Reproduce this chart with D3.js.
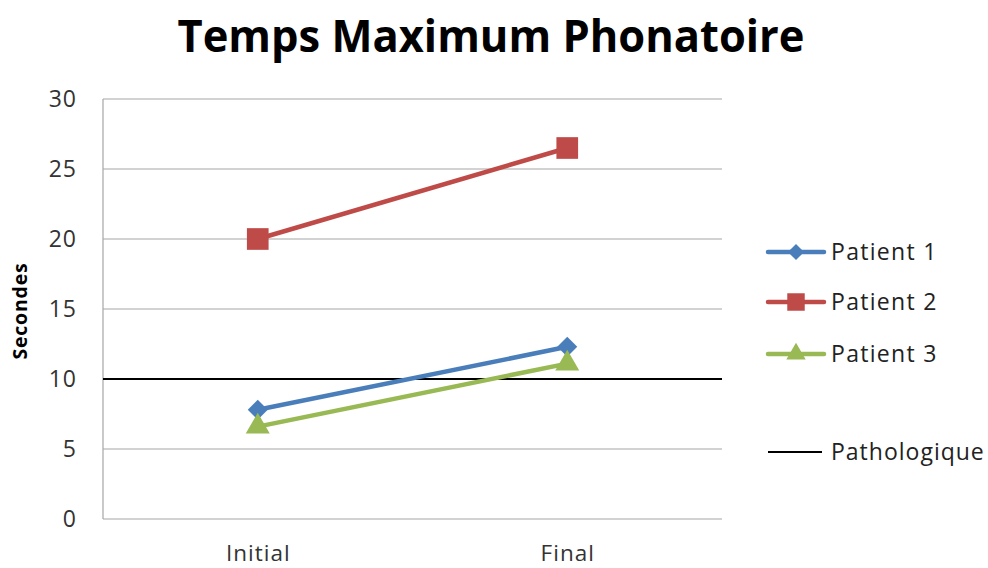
<!DOCTYPE html>
<html><head><meta charset="utf-8">
<script src="https://cdn.jsdelivr.net/npm/d3@7"></script>
<style>body{margin:0;background:#fff}</style>
</head><body>
<script>
const categories = ["Initial", "Final"];
const seriesNames = ["Patient 1", "Patient 2", "Patient 3"];
const patient1 = [7.8, 12.3];
const patient2 = [20, 26.5];
const patient3 = [6.6, 11.1];
const threshold = 10;
const thresholdName = "Pathologique";
const yTicks = [0, 5, 10, 15, 20, 25, 30];
const title = "Temps Maximum Phonatoire";
const yTitle = "Secondes";

const W = 988, H = 568;
const m = {left: 103, right: 266, top: 99, bottom: 49};
const svg = d3.select("body").append("svg").attr("width", W).attr("height", H);
const font = "'Open Sans', sans-serif";

const x = d3.scalePoint().domain(categories).range([m.left, W - m.right]).padding(0.5);
const y = d3.scaleLinear().domain([0, 30]).range([H - m.bottom, m.top]);

// gridlines
svg.append("g").selectAll("line").data(yTicks).join("line")
  .attr("x1", m.left).attr("x2", W - m.right)
  .attr("y1", d => y(d)).attr("y2", d => y(d))
  .attr("stroke", "#a6a6a6").attr("stroke-width", 1.2);
svg.append("line").attr("x1", m.left).attr("x2", m.left)
  .attr("y1", y(0)).attr("y2", y(30)).attr("stroke", "#a6a6a6").attr("stroke-width", 1.2);

// y axis labels
const yAxis = d3.axisLeft(y).tickValues(yTicks).tickSize(0).tickPadding(26);
const ga = svg.append("g").attr("transform", `translate(${m.left},0)`).call(yAxis);
ga.select(".domain").remove();
ga.selectAll("text").attr("font-family", font).attr("font-size", 23)
  .attr("letter-spacing", 1).attr("fill", "#333");

// x axis labels
const xAxis = d3.axisBottom(x).tickSize(0).tickPadding(26);
const gx = svg.append("g").attr("transform", `translate(0,${y(0)})`).call(xAxis);
gx.select(".domain").remove();
gx.selectAll("text").attr("font-family", font).attr("font-size", 22.5)
  .attr("letter-spacing", 1).attr("fill", "#333");

// threshold
svg.append("line").attr("x1", m.left).attr("x2", W - m.right)
  .attr("y1", y(threshold)).attr("y2", y(threshold))
  .attr("stroke", "#000").attr("stroke-width", 2.2);

const series = [
  {name: seriesNames[0], values: patient1, color: "#4a7ebb", shape: d3.symbolSquare, size: 200, rot: 45},
  {name: seriesNames[1], values: patient2, color: "#be4b48", shape: d3.symbolSquare, size: 470, rot: 0},
  {name: seriesNames[2], values: patient3, color: "#98b954", shape: d3.symbolTriangle, size: 250, rot: 0},
];
const line = d3.line().x((d, i) => x(categories[i])).y(d => y(d));
series.forEach(s => {
  svg.append("path").attr("d", line(s.values)).attr("fill", "none")
    .attr("stroke", s.color).attr("stroke-width", 4.5).attr("stroke-linecap", "round");
  svg.append("g").selectAll("path").data(s.values).join("path")
    .attr("transform", (d, i) => `translate(${x(categories[i])},${y(d)}) rotate(${s.rot})`)
    .attr("d", d3.symbol().type(s.shape).size(s.size)).attr("fill", s.color);
});

// title
svg.append("text").attr("x", 491).attr("y", 52).attr("text-anchor", "middle")
  .attr("font-family", font).attr("font-weight", "bold").attr("font-size", 45)
  .attr("textLength", 627).attr("lengthAdjust", "spacingAndGlyphs")
  .attr("fill", "#000").text(title);

// y title
svg.append("text").attr("transform", "translate(27,311) rotate(-90)").attr("text-anchor", "middle")
  .attr("font-family", font).attr("font-weight", "bold").attr("font-size", 19.5)
  .attr("letter-spacing", 0.8).attr("fill", "#000").text(yTitle);

// legend
const lg = svg.append("g");
const rows = [252, 302, 354];
series.forEach((s, i) => {
  const ry = rows[i];
  lg.append("line").attr("x1", 768).attr("x2", 824).attr("y1", ry).attr("y2", ry)
    .attr("stroke", s.color).attr("stroke-width", 4.5).attr("stroke-linecap", "round");
  lg.append("path").attr("transform", `translate(796,${ry}) rotate(${s.rot})`)
    .attr("d", d3.symbol().type(s.shape).size(s.size * 0.65)).attr("fill", s.color);
  lg.append("text").attr("x", 831).attr("y", ry).attr("dy", "0.35em")
    .attr("font-family", font).attr("font-size", 23).attr("letter-spacing", 1.3)
    .attr("fill", "#222").text(s.name);
});
lg.append("line").attr("x1", 768).attr("x2", 822).attr("y1", 452).attr("y2", 452)
  .attr("stroke", "#000").attr("stroke-width", 2.2);
lg.append("text").attr("x", 831).attr("y", 452).attr("dy", "0.35em")
  .attr("font-family", font).attr("font-size", 23).attr("letter-spacing", 1)
  .attr("fill", "#222").text(thresholdName);
</script>
</body></html>
